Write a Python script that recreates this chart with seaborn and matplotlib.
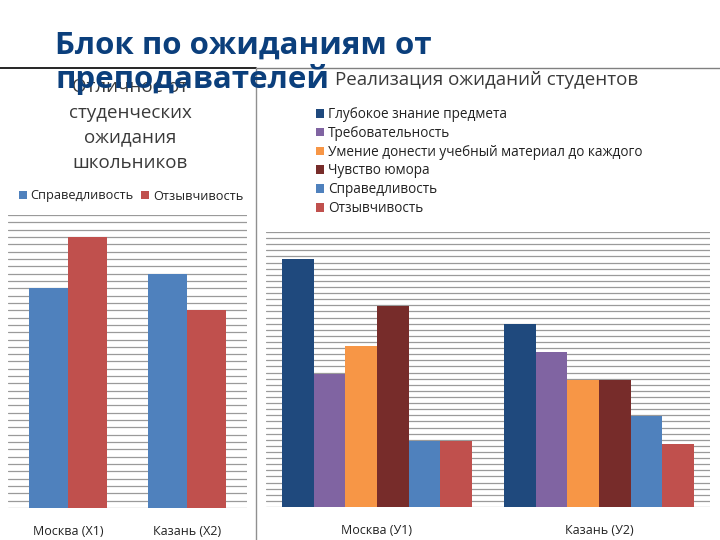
import pandas as pd
import seaborn as sns
import matplotlib.pyplot as plt
from matplotlib.patches import Patch
from matplotlib.lines import Line2D

# --- data ---
left_cities = ["Москва (X1)", "Казань (X2)"]
left_series = ["Справедливость", "Отзывчивость"]
left_spravedl = [30, 32]
left_otzyv = [37, 27]

right_cities = ["Москва (У1)", "Казань (У2)"]
right_series = [
    "Глубокое знание предмета",
    "Требовательность",
    "Умение донести учебный материал до каждого",
    "Чувство юмора",
    "Справедливость",
    "Отзывчивость",
]
right_moscow = [40.5, 21.8, 26.4, 32.9, 10.8, 10.8]
right_kazan = [30.0, 25.4, 20.8, 20.8, 14.9, 10.3]

left_colors = ["#4F81BD", "#C0504D"]
right_colors = ["#1F497D", "#8064A2", "#F79646", "#772C2A", "#4F81BD", "#C0504D"]

sns.set_theme(style="white")
plt.rcParams["font.family"] = ["Open Sans", "DejaVu Sans"]

fig = plt.figure(figsize=(7.2, 5.4), dpi=100)


def grid_axes(ax, top):
    ax.set_ylim(0, top)
    ax.set_yticks(range(0, top + 1))
    ax.yaxis.grid(True, color="#9a9a9a", lw=0.9)
    ax.set_axisbelow(True)
    ax.tick_params(left=False, labelleft=False, bottom=False, labelsize=9, pad=6)
    for s in ax.spines.values():
        s.set_visible(False)
    ax.set_xlabel("")
    ax.set_ylabel("")


# left chart
df_left = pd.DataFrame({
    "city": left_cities * 2,
    "series": [left_series[0]] * 2 + [left_series[1]] * 2,
    "value": left_spravedl + left_otzyv,
})
ax1 = fig.add_axes([0.0118, 0.0593, 0.3306, 0.5426])
sns.barplot(data=df_left, x="city", y="value", hue="series", order=left_cities,
            hue_order=left_series, palette=left_colors, width=0.66, gap=0,
            saturation=1, linewidth=0, ax=ax1, legend=False)
grid_axes(ax1, 40)
for lbl in ax1.get_xticklabels():
    lbl.set_color("#222222")

# right chart
df_right = pd.DataFrame({
    "city": [right_cities[0]] * 6 + [right_cities[1]] * 6,
    "series": right_series * 2,
    "value": right_moscow + right_kazan,
})
ax2 = fig.add_axes([0.3694, 0.0611, 0.6167, 0.5093])
sns.barplot(data=df_right, x="city", y="value", hue="series", order=right_cities,
            hue_order=right_series, palette=right_colors, width=0.856, gap=0,
            saturation=1, linewidth=0, ax=ax2, legend=False)
grid_axes(ax2, 45)
for lbl in ax2.get_xticklabels():
    lbl.set_color("#222222")

# titles
fig.text(130 / 720, 1 - 125 / 540, "Отличное от\nстуденческих\nожидания\nшкольников",
         ha="center", va="center", fontsize=13.5, color="#3a3a3a", linespacing=1.5)
fig.text(335 / 720, 1 - 80 / 540, "Реализация ожиданий студентов",
         ha="left", va="center", fontsize=13.5, color="#3a3a3a")

# legends
lh = [Patch(facecolor=c, edgecolor="none") for c in left_colors]
fig.legend(lh, left_series, loc="center", bbox_to_anchor=(131 / 720, 1 - 196 / 540),
           ncol=2, frameon=False, fontsize=9.2, handlelength=0.6, handleheight=0.6,
           handletextpad=0.3, columnspacing=0.6, labelcolor="#222222")
rh = [Patch(facecolor=c, edgecolor="none") for c in right_colors]
fig.legend(rh, right_series, loc="upper left", bbox_to_anchor=(316 / 720, 1 - 107 / 540),
           ncol=1, frameon=False, fontsize=9.8, handlelength=0.6, handleheight=0.6,
           handletextpad=0.3, labelspacing=0.28, labelcolor="#222222",
           borderaxespad=0, borderpad=0)

# separator lines
fig.add_artist(Line2D([0, 256 / 720], [1 - 68 / 540] * 2, color="black", lw=1.2))
fig.add_artist(Line2D([256 / 720, 1], [1 - 68 / 540] * 2, color="#808080", lw=1.0))
fig.add_artist(Line2D([256 / 720] * 2, [0, 1 - 68 / 540], color="#909090", lw=1.0))

# slide title (drawn over the chart titles, as in the slide)
fig.text(55 / 720, 1 - 63 / 540, "Блок по ожиданиям от\nпреподавателей",
         ha="left", va="center", fontsize=22.5, fontweight="bold", color="#0B3F7C",
         linespacing=1.15)

fig.savefig("out.png", dpi=100, facecolor="white")
